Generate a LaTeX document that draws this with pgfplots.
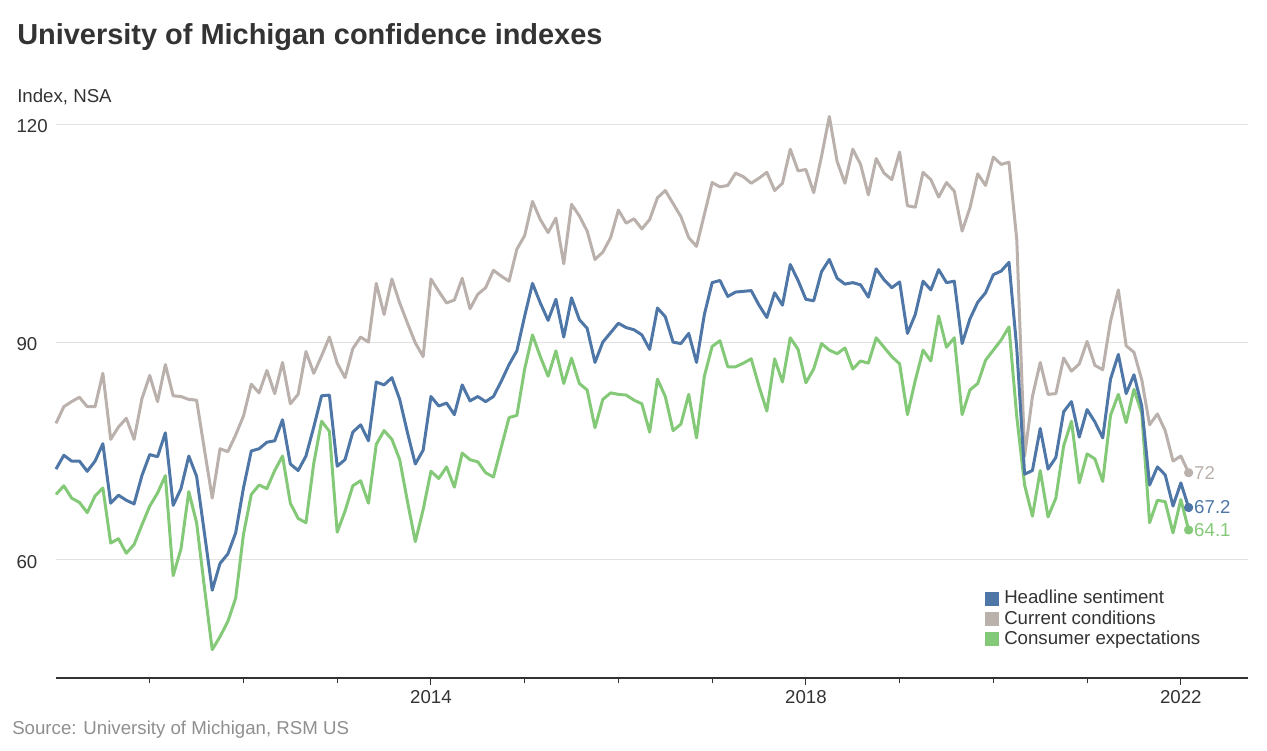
\documentclass[border=0pt]{standalone}
\usepackage{pgfplots}
\usepackage{pgfplotstable}
\pgfplotsset{compat=1.18}
\usepackage{fontspec}
\setmainfont{Liberation Sans}
\definecolor{hs}{HTML}{4E76A6}
\definecolor{cc}{HTML}{BAB0AC}
\definecolor{ce}{HTML}{84C978}
\definecolor{txt}{HTML}{333333}
\definecolor{srcc}{HTML}{8F8F8F}
\definecolor{gridc}{HTML}{E2E2E2}

% i: months since Dec 2009 (i=0 Dec 2009 ... i=145 Jan 2022)
\pgfplotstableread{
i hs cc ce
0 72.5 78.8 69.0
1 74.4 81.1 70.2
2 73.6 81.8 68.5
3 73.6 82.4 67.9
4 72.2 81.1 66.5
5 73.6 81.1 68.8
6 76.0 85.7 69.9
7 67.8 76.6 62.3
8 68.9 78.3 62.9
9 68.2 79.5 60.9
10 67.7 76.6 62.1
11 71.6 82.2 64.8
12 74.5 85.4 67.4
13 74.2 81.8 69.2
14 77.5 86.9 71.6
15 67.5 82.6 57.8
16 69.8 82.5 61.5
17 74.3 82.1 69.4
18 71.5 82.0 65.1
19 63.7 75.2 56.2
20 55.8 68.5 47.6
21 59.5 75.3 49.4
22 60.8 74.9 51.5
23 63.7 77.2 54.7
24 69.9 79.8 63.5
25 75.0 84.2 69.0
26 75.3 83.0 70.3
27 76.2 86.1 69.8
28 76.4 82.9 72.3
29 79.3 87.2 74.3
30 73.2 81.5 67.8
31 72.3 82.8 65.7
32 74.3 88.7 65.1
33 78.3 85.7 73.3
34 82.6 88.1 79.1
35 82.7 90.7 77.7
36 72.9 87.1 63.8
37 73.8 85.1 66.7
38 77.6 89.1 70.2
39 78.6 90.7 70.9
40 76.4 90.0 67.8
41 84.5 98.1 75.9
42 84.1 93.8 77.8
43 85.1 98.7 76.6
44 82.1 95.4 73.8
45 77.5 92.6 68.0
46 73.2 89.9 62.5
47 75.1 88.0 66.9
48 82.5 98.7 72.2
49 81.2 97.0 71.2
50 81.6 95.4 72.8
51 80.0 95.8 70.0
52 84.1 98.8 74.7
53 81.9 94.6 73.8
54 82.5 96.6 73.5
55 81.8 97.5 72.0
56 82.5 99.9 71.4
57 84.6 99.1 75.5
58 86.9 98.4 79.6
59 88.8 102.8 79.9
60 93.6 104.7 86.3
61 98.1 109.4 91.0
62 95.4 106.9 88.0
63 93.0 105.1 85.3
64 95.9 107.1 88.8
65 90.7 100.8 84.3
66 96.1 109.0 87.8
67 93.1 107.4 84.3
68 91.9 105.3 83.4
69 87.2 101.4 78.2
70 90.0 102.4 82.1
71 91.3 104.4 83.0
72 92.6 108.2 82.8
73 92.0 106.4 82.7
74 91.7 107.0 82.0
75 91.0 105.6 81.5
76 89.0 106.9 77.6
77 94.7 109.9 84.9
78 93.5 110.9 82.5
79 90.0 109.1 77.8
80 89.8 107.3 78.7
81 91.2 104.4 82.8
82 87.2 103.2 76.8
83 93.8 107.6 85.3
84 98.2 112.0 89.4
85 98.5 111.4 90.2
86 96.3 111.6 86.6
87 96.9 113.3 86.6
88 97.0 112.8 87.1
89 97.1 111.9 87.7
90 95.1 112.6 83.9
91 93.4 113.4 80.5
92 96.8 110.9 87.7
93 95.1 111.9 84.5
94 100.7 116.6 90.6
95 98.5 113.6 89.0
96 95.9 113.8 84.4
97 95.7 110.6 86.3
98 99.7 115.6 89.8
99 101.4 121.1 88.9
100 98.8 114.9 88.4
101 98.0 111.9 89.2
102 98.2 116.6 86.3
103 97.9 114.5 87.4
104 96.2 110.3 87.1
105 100.1 115.3 90.6
106 98.6 113.3 89.3
107 97.5 112.4 88.0
108 98.3 116.2 87.0
109 91.2 108.8 80.0
110 93.8 108.6 84.7
111 98.4 113.4 88.9
112 97.2 112.4 87.4
113 100.0 110.0 93.6
114 98.2 112.0 89.3
115 98.4 110.8 90.6
116 89.8 105.3 80.0
117 93.2 108.5 83.4
118 95.5 113.2 84.3
119 96.8 111.6 87.5
120 99.3 115.5 88.9
121 99.8 114.5 90.3
122 101.0 114.8 92.1
123 89.1 104.1 79.7
124 71.8 74.3 70.3
125 72.3 82.5 66.0
126 78.1 87.2 72.3
127 72.5 82.8 65.9
128 74.1 82.9 68.5
129 80.4 87.8 75.7
130 81.8 86.0 79.1
131 76.9 87.0 70.6
132 80.7 90.1 74.6
133 79.0 86.8 73.9
134 76.8 86.2 70.8
135 84.9 92.9 79.9
136 88.3 97.2 82.8
137 82.9 89.5 78.9
138 85.5 88.6 83.5
139 81.2 84.8 80.2
140 70.3 78.6 65.1
141 72.8 80.1 68.2
142 71.7 77.8 68.0
143 67.4 73.6 63.7
144 70.6 74.3 68.3
145 67.2 72.0 64.1
}\datatable

\begin{document}
\begin{tikzpicture}
\fontsize{14}{16.8}\selectfont
\begin{scope}[x=0.75pt,y=0.75pt]
\path (0,0) rectangle (1267,750);
\node[anchor=base west, inner sep=0pt, text=txt, font=\fontsize{21.7}{26}\selectfont\bfseries] at (17,705) {University of Michigan confidence indexes};
\node[anchor=base west, inner sep=0pt, text=txt] at (17,647) {Index, NSA};
\node[anchor=base west, inner sep=0pt, text=srcc] at (12,16) {Source: University of Michigan, RSM US};
\end{scope}
\begin{axis}[
  at={(42pt,54pt)}, anchor=south west,
  width=894pt, height=426pt, scale only axis,
  xmin=0, xmax=152.6, ymin=43.7, ymax=122,
  axis x line*=bottom, axis y line*=left,
  x axis line style={-, color=txt, line width=1.5pt},
  y axis line style={draw=none},
  ytick={60,90,120},
  ytick style={draw=none},
  ymajorgrids, grid style={color=gridc, line width=0.75pt},
  xtick={48,96,144}, xticklabels={2014,2018,2022},
  minor xtick={12,24,36,60,72,84,108,120,132},
  xtick style={color=txt, line width=0.75pt},
  tick align=outside, major tick length=5pt, minor tick length=4pt,
  /pgf/number format/assume math mode=true,
  tick label style={font=\fontsize{14}{16.8}\selectfont, text=txt},
  yticklabel style={anchor=west, inner sep=0pt, xshift=-24.75pt, yshift=-1.5pt},
  xticklabel style={inner sep=0pt, yshift=-4pt},
  legend style={at={(0.7794,0.1585)}, anchor=north west, draw=none, fill=none,
    font=\fontsize{14}{16.5}\selectfont, text=txt, inner sep=0pt, row sep=0pt,
    nodes={inner sep=1.5pt}},
  legend cell align=left,
  legend image code/.code={\fill[#1] (0pt,-4.9pt) rectangle (9.8pt,4.9pt); \path[draw=none,fill=none] (0pt,0pt) rectangle (12.5pt,0.1pt);},
  clip=false,
]
\addplot[color=cc, line width=2.25pt, line join=round, mark=*, mark indices={146}, mark size=2.3pt, forget plot] table[x=i, y=cc] {\datatable};
\addplot[color=ce, line width=2.25pt, line join=round, mark=*, mark indices={146}, mark size=2.3pt, forget plot] table[x=i, y=ce] {\datatable};
\addplot[color=hs, line width=2.25pt, line join=round, mark=*, mark indices={146}, mark size=2.3pt, forget plot] table[x=i, y=hs] {\datatable};
\addlegendimage{hs}\addlegendentry{Headline sentiment}
\addlegendimage{cc}\addlegendentry{Current conditions}
\addlegendimage{ce}\addlegendentry{Consumer expectations}
\node[anchor=west, inner sep=0pt, text=cc, xshift=4pt] at (axis cs:145,72) {72};
\node[anchor=west, inner sep=0pt, text=hs, xshift=4pt] at (axis cs:145,67.2) {67.2};
\node[anchor=west, inner sep=0pt, text=ce, xshift=4pt] at (axis cs:145,64.1) {64.1};
\end{axis}
\end{tikzpicture}
\end{document}
